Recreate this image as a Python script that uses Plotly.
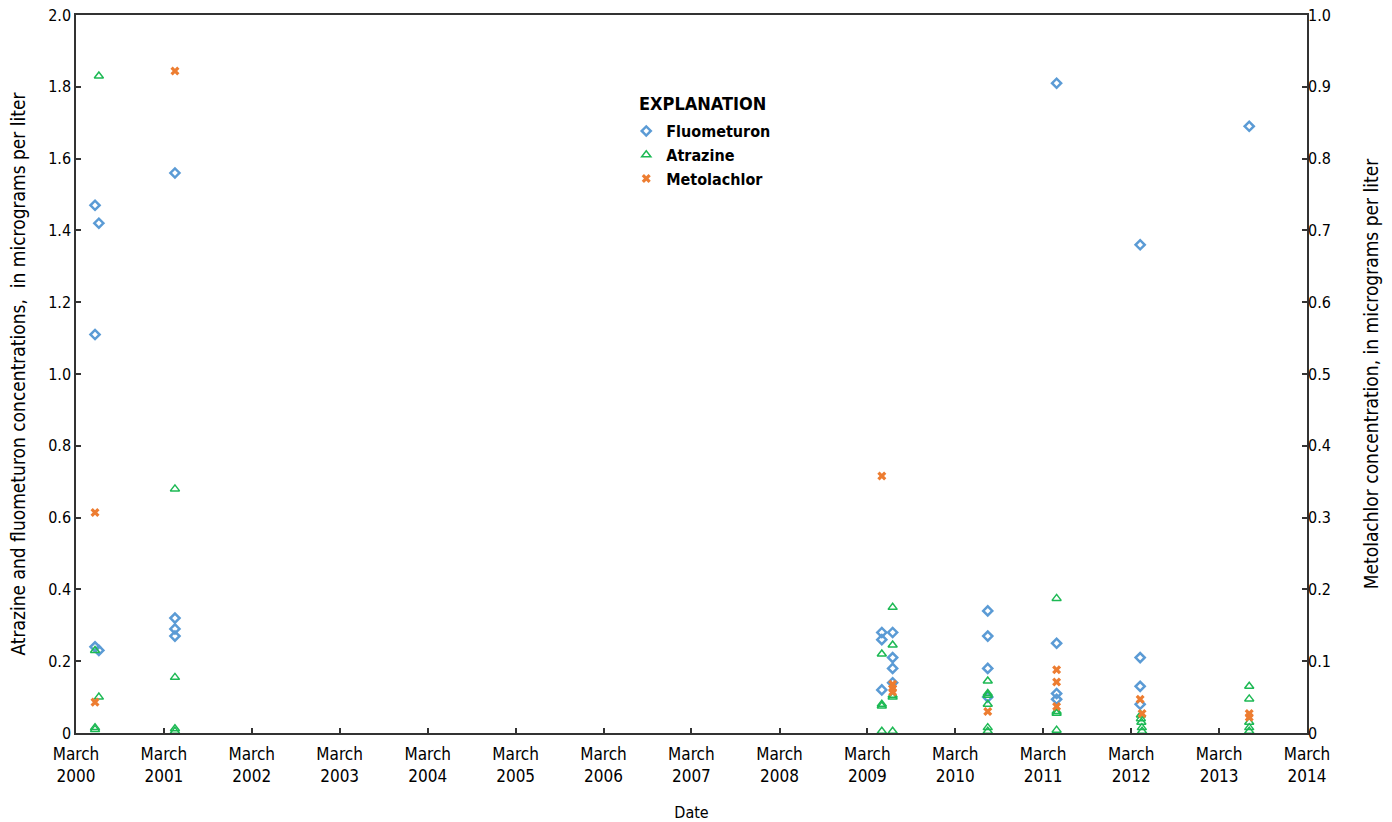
import plotly.graph_objects as go

# ---------------- data ----------------
fluo_dates = ["2000-05-19", "2000-05-19", "2000-05-19", "2000-06-04", "2000-06-04",
              "2001-04-16", "2001-04-16", "2001-04-16", "2001-04-16",
              "2009-04-30", "2009-04-30", "2009-04-30",
              "2009-06-14", "2009-06-14", "2009-06-14", "2009-06-14",
              "2010-07-14", "2010-07-14", "2010-07-14", "2010-07-14",
              "2011-04-26", "2011-04-26", "2011-04-26", "2011-04-26",
              "2012-04-07", "2012-04-07", "2012-04-07", "2012-04-07",
              "2013-07-04"]
fluo_vals = [1.47, 1.11, 0.24, 1.42, 0.23,
             1.56, 0.32, 0.29, 0.27,
             0.28, 0.26, 0.12,
             0.28, 0.21, 0.18, 0.14,
             0.34, 0.27, 0.18, 0.10,
             1.81, 0.25, 0.11, 0.094,
             1.36, 0.21, 0.13, 0.08,
             1.69]

atra_dates = ["2000-05-19", "2000-05-19", "2000-05-19", "2000-06-04", "2000-06-04",
              "2001-04-16", "2001-04-16", "2001-04-16", "2001-04-16",
              "2009-04-30", "2009-04-30", "2009-04-30", "2009-04-30",
              "2009-06-14", "2009-06-14", "2009-06-14", "2009-06-14", "2009-06-14",
              "2010-07-14", "2010-07-14", "2010-07-14", "2010-07-14", "2010-07-14", "2010-07-14",
              "2011-04-26", "2011-04-26", "2011-04-26", "2011-04-26",
              "2012-04-10", "2012-04-10", "2012-04-12", "2012-04-14", "2012-04-15",
              "2013-07-04", "2013-07-04", "2013-07-04", "2013-07-04", "2013-07-04"]
atra_vals = [0.23, 0.015, 0.01, 1.83, 0.10,
             0.68, 0.155, 0.012, 0.005,
             0.22, 0.08, 0.075, 0.005,
             0.35, 0.245, 0.105, 0.10, 0.005,
             0.145, 0.11, 0.105, 0.08, 0.015, 0.005,
             0.375, 0.06, 0.055, 0.008,
             0.05, 0.04, 0.03, 0.015, 0.005,
             0.13, 0.095, 0.03, 0.015, 0.005]

meto_dates = ["2000-05-19", "2000-05-19",
              "2001-04-16",
              "2009-04-30",
              "2009-06-14", "2009-06-14", "2009-06-14",
              "2010-07-14",
              "2011-04-26", "2011-04-26", "2011-04-26",
              "2012-04-07", "2012-04-15",
              "2013-07-04", "2013-07-04"]
meto_vals = [0.307, 0.043,
             0.922,
             0.358,
             0.068, 0.062, 0.057,
             0.03,
             0.088, 0.071, 0.037,
             0.047, 0.027,
             0.027, 0.022]

tick_dates = ["%d-03-01" % y for y in range(2000, 2015)]
tick_text = ["March<br>%d" % y for y in range(2000, 2015)]
left_ticks = [0, 0.2, 0.4, 0.6, 0.8, 1.0, 1.2, 1.4, 1.6, 1.8, 2.0]
left_text = ["0", "0.2", "0.4", "0.6", "0.8", "1.0", "1.2", "1.4", "1.6", "1.8", "2.0"]
right_ticks = [0, 0.1, 0.2, 0.3, 0.4, 0.5, 0.6, 0.7, 0.8, 0.9, 1.0]
right_text = ["0", "0.1", "0.2", "0.3", "0.4", "0.5", "0.6", "0.7", "0.8", "0.9", "1.0"]

FONT = "Liberation Sans Narrow, DejaVu Sans Condensed, Arial Narrow, Roboto, sans-serif"
BLUE = "#5b9bd5"
GREEN = "#1db954"
ORANGE = "#ed7d31"

fig = go.Figure()
fig.add_trace(go.Scatter(
    x=fluo_dates, y=fluo_vals, mode="markers", name="Fluometuron",
    marker=dict(symbol="diamond-open", size=7, color=BLUE, line=dict(width=2.5, color=BLUE)),
))
fig.add_trace(go.Scatter(
    x=atra_dates, y=atra_vals, mode="markers", name="Atrazine",
    marker=dict(symbol="triangle-up-open", size=8, color=GREEN, line=dict(width=1.5, color=GREEN)),
))
fig.add_trace(go.Scatter(
    x=meto_dates, y=meto_vals, mode="markers", name="Metolachlor", yaxis="y2",
    marker=dict(symbol="x", size=8, color=ORANGE, line=dict(width=0)),
))

fig.update_layout(
    width=1392, height=822,
    paper_bgcolor="white", plot_bgcolor="white",
    margin=dict(l=76, r=85, t=15, b=89, autoexpand=False),
    font=dict(family=FONT, size=16, color="black"),
    showlegend=True,
    legend=dict(
        x=0.447, y=0.862, xanchor="left", yanchor="top",
        bgcolor="rgba(0,0,0,0)",
        font=dict(family=FONT, size=16, color="black", weight="bold"),
        itemwidth=30, tracegroupgap=2,
    ),
    xaxis=dict(
        type="date", automargin=False,
        range=["2000-03-01", "2014-03-01"],
        tickmode="array", tickvals=tick_dates, ticktext=tick_text,
        ticks="inside", ticklen=5, tickwidth=1.5, tickcolor="#333",
        ticklabelstandoff=5,
        showline=True, linecolor="#333", linewidth=1.5, mirror=True,
        showgrid=False, zeroline=False,
        tickfont=dict(family=FONT, size=17),
        title=dict(text="Date", font=dict(family=FONT, size=16), standoff=32),
    ),
    yaxis=dict(
        range=[0, 2.0], automargin=False,
        tickmode="array", tickvals=left_ticks, ticktext=left_text,
        ticks="inside", ticklen=5, tickwidth=1.5, tickcolor="#333",
        ticklabeloverflow="allow",
        showline=True, linecolor="#333", linewidth=1.5, mirror=True,
        showgrid=False, zeroline=False,
        tickfont=dict(family=FONT, size=16),
        title=dict(text="Atrazine and fluometuron concentrations,  in micrograms per liter",
                   font=dict(family=FONT, size=19), standoff=18),
    ),
    yaxis2=dict(
        overlaying="y", side="right", automargin=False,
        range=[0, 1.0],
        tickmode="array", tickvals=right_ticks, ticktext=right_text,
        ticks="inside", ticklen=5, tickwidth=1.5, tickcolor="#333",
        ticklabeloverflow="allow",
        showline=False, showgrid=False, zeroline=False,
        tickfont=dict(family=FONT, size=16),
        title=dict(text="Metolachlor concentration, in micrograms per liter",
                   font=dict(family=FONT, size=19), standoff=34),
    ),
    annotations=[dict(
        text="<b>EXPLANATION</b>", xref="paper", yref="paper",
        x=0.4557, y=0.877, xanchor="left", yanchor="middle", showarrow=False,
        font=dict(family=FONT, size=18, color="black"),
    )],
)

fig.write_html("out.html", config={"displayModeBar": False},
               post_script="document.body.style.margin='0';")
